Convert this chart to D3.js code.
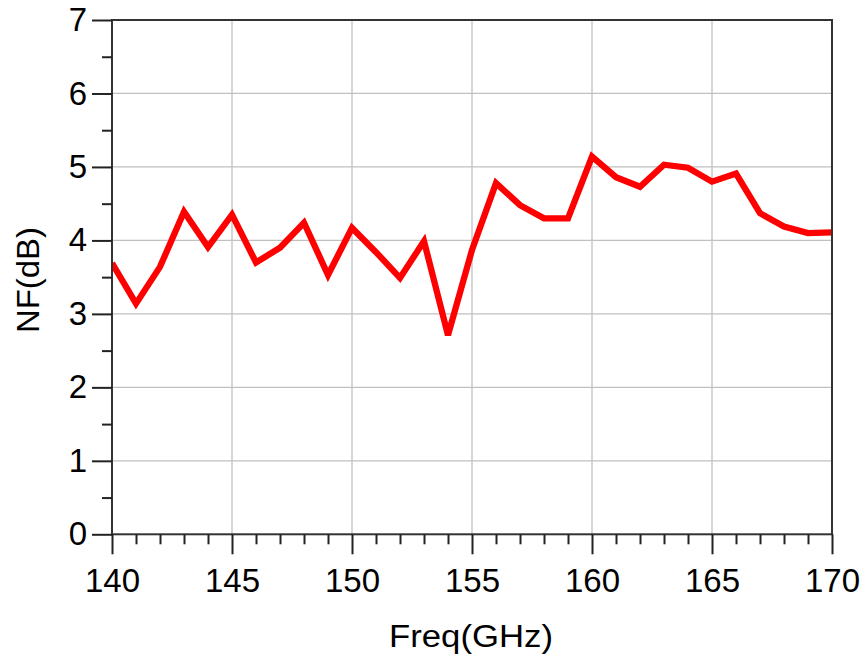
<!DOCTYPE html>
<html>
<head>
<meta charset="utf-8">
<script src="https://cdn.jsdelivr.net/npm/d3@7"></script>
<style>
  html, body { margin: 0; padding: 0; background: #fff; }
  svg { display: block; }
  text { font-family: "Liberation Sans", Arial, sans-serif; fill: #000; }
</style>
</head>
<body>
<svg id="chart" width="866" height="661"></svg>
<script>
const freq = [140,141,142,143,144,145,146,147,148,149,150,151,152,153,154,155,156,157,158,159,160,161,162,163,164,165,166,167,168,169,170];
const nf = [3.69,3.14,3.64,4.39,3.91,4.35,3.70,3.90,4.24,3.53,4.17,3.84,3.49,3.99,2.71,3.87,4.78,4.48,4.30,4.30,5.14,4.86,4.73,5.03,4.99,4.80,4.91,4.37,4.19,4.10,4.11];
const xMajorTicks = [140,145,150,155,160,165,170];
const yMajorTicks = [0,1,2,3,4,5,6,7];
const xLabel = "Freq(GHz)";
const yLabel = "NF(dB)";

const svg = d3.select("#chart");
const L = 112, R = 832, T = 20, B = 534.3;
const x = d3.scaleLinear().domain([140,170]).range([L,R]);
const y = d3.scaleLinear().domain([0,7]).range([B,T]);

const xMinor = d3.range(140,171,1).filter(v => !xMajorTicks.includes(v));
const yMinor = d3.range(0.5,7,1);

// grid
svg.append("g").selectAll("line").data(xMajorTicks.slice(1,-1)).join("line")
  .attr("x1", d=>x(d)).attr("x2", d=>x(d)).attr("y1", T).attr("y2", B)
  .attr("stroke", "#c0c0c0").attr("stroke-width", 1.3);
svg.append("g").selectAll("line").data(yMajorTicks.slice(1,-1)).join("line")
  .attr("y1", d=>y(d)).attr("y2", d=>y(d)).attr("x1", L).attr("x2", R)
  .attr("stroke", "#c0c0c0").attr("stroke-width", 1.3);

// data line (clipped)
svg.append("clipPath").attr("id","clip").append("rect")
  .attr("x", L).attr("y", T).attr("width", R-L).attr("height", B-T);
svg.append("path").datum(freq.map((f,i)=>[f,nf[i]]))
  .attr("clip-path","url(#clip)")
  .attr("fill","none").attr("stroke","#ff0000").attr("stroke-width",6.3)
  .attr("stroke-linejoin","miter").attr("stroke-miterlimit",3)
  .attr("d", d3.line().x(d=>x(d[0])).y(d=>y(d[1])));

// frame
svg.append("rect").attr("x", L).attr("y", T).attr("width", R-L).attr("height", B-T)
  .attr("fill","none").attr("stroke","#333").attr("stroke-width",2);

// x axis
const xAxis = d3.axisBottom(x).tickValues(xMajorTicks).tickFormat(d3.format("d")).tickSize(20).tickPadding(14);
const gx = svg.append("g").attr("transform", `translate(0,${B})`).call(xAxis);
gx.select(".domain").remove();
gx.selectAll(".tick line").attr("stroke","#222").attr("stroke-width",2);
gx.selectAll(".tick text").attr("font-size", 33).attr("font-family", "Liberation Sans, Arial, sans-serif").attr("fill","#000");
const gxm = svg.append("g").attr("transform", `translate(0,${B})`)
  .call(d3.axisBottom(x).tickValues(xMinor).tickFormat("").tickSize(10));
gxm.select(".domain").remove();
gxm.selectAll(".tick line").attr("stroke","#222").attr("stroke-width",2);

// y axis
const yAxis = d3.axisLeft(y).tickValues(yMajorTicks).tickFormat(d3.format("d")).tickSize(20).tickPadding(5);
const gy = svg.append("g").attr("transform", `translate(${L},0)`).call(yAxis);
gy.select(".domain").remove();
gy.selectAll(".tick line").attr("stroke","#222").attr("stroke-width",2);
gy.selectAll(".tick text").attr("font-size", 33).attr("font-family", "Liberation Sans, Arial, sans-serif").attr("fill","#000");
const gym = svg.append("g").attr("transform", `translate(${L},0)`)
  .call(d3.axisLeft(y).tickValues(yMinor).tickFormat("").tickSize(10));
gym.select(".domain").remove();
gym.selectAll(".tick line").attr("stroke","#222").attr("stroke-width",2);

// titles
svg.append("text").attr("x", 471).attr("y", 647).attr("text-anchor","middle")
  .attr("font-size", 31).attr("textLength", 164).attr("lengthAdjust", "spacingAndGlyphs").text(xLabel);
svg.append("text").attr("transform", `translate(39,280) rotate(-90)`).attr("text-anchor","middle")
  .attr("font-size", 32).attr("textLength", 106).attr("lengthAdjust", "spacingAndGlyphs").text(yLabel);
</script>
</body>
</html>
